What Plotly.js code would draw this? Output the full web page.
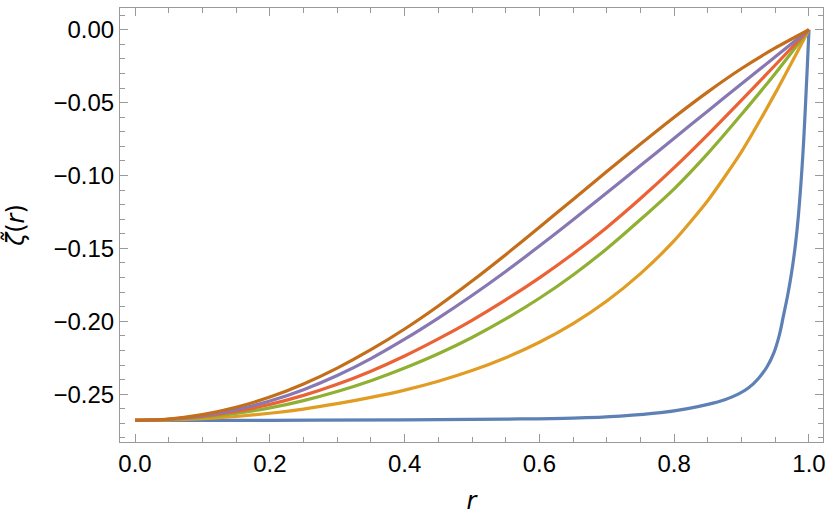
<!DOCTYPE html>
<html>
<head>
<meta charset="utf-8">
<script src="https://cdn.plot.ly/plotly-3.0.1.min.js"></script>
<style>html,body{margin:0;padding:0;background:#fff;}#chart{width:834px;height:519px;}</style>
</head>
<body>
<div id="chart"></div>
<script>
// radial positions for the five smooth families
const rGrid = [0, 0.05, 0.1, 0.15, 0.2, 0.25, 0.3, 0.35, 0.4, 0.45, 0.5, 0.55, 0.6, 0.65, 0.7, 0.75, 0.8, 0.85, 0.9, 0.95, 1.0];
const zetaOrange = [-0.268, -0.2677, -0.2668, -0.2653, -0.2631, -0.2602, -0.2565, -0.2522, -0.2472, -0.2411, -0.2338, -0.2250, -0.2144, -0.2016, -0.1861, -0.1673, -0.1447, -0.1171, -0.0836, -0.0435, 0];
const zetaGreen  = [-0.268, -0.2675, -0.2659, -0.2632, -0.2594, -0.2544, -0.2482, -0.2408, -0.2321, -0.2223, -0.2111, -0.1984, -0.1842, -0.1682, -0.1502, -0.1302, -0.1091, -0.0848, -0.0580, -0.0300, 0];
const zetaRed    = [-0.268, -0.2673, -0.2652, -0.2618, -0.2570, -0.2508, -0.2432, -0.2342, -0.2238, -0.2121, -0.1993, -0.1853, -0.1702, -0.1537, -0.1356, -0.1158, -0.0946, -0.0719, -0.0483, -0.0242, 0];
const zetaPurple = [-0.268, -0.2672, -0.2647, -0.2606, -0.2547, -0.2469, -0.2372, -0.2256, -0.2123, -0.1978, -0.1823, -0.1658, -0.1484, -0.1304, -0.1119, -0.0932, -0.0744, -0.0557, -0.0371, -0.0186, 0];
const zetaBrown  = [-0.268, -0.2670, -0.2640, -0.2590, -0.2520, -0.2430, -0.2321, -0.2195, -0.2053, -0.1895, -0.1724, -0.1543, -0.1355, -0.1164, -0.0973, -0.0784, -0.0600, -0.0426, -0.0266, -0.0125, 0];

// blue curve (boundary layer near r = 1)
const rBlue = [0, 0.2, 0.4, 0.55, 0.65, 0.72, 0.78, 0.82, 0.85, 0.875, 0.895, 0.91, 0.925, 0.938, 0.948, 0.956, 0.962, 0.968, 0.972, 0.976, 0.980, 0.984, 0.988, 0.991, 0.9935, 0.996, 0.998, 1.0];
const zetaBlue = [-0.268, -0.2679, -0.2676, -0.2671, -0.2664, -0.2650, -0.2627, -0.2599, -0.2570, -0.2538, -0.2500, -0.2458, -0.2392, -0.2310, -0.2215, -0.2095, -0.1965, -0.1830, -0.1728, -0.1610, -0.1470, -0.1290, -0.1060, -0.0850, -0.0640, -0.0400, -0.0205, 0];

const colors = ['#5E81B5', '#E19C24', '#8FB032', '#EB6235', '#8778B3', '#C56E1A'];

const lw = 3.2;
function tr(x, y, c, sm) {
  return {x: x, y: y, type: 'scatter', mode: 'lines', line: {color: c, width: lw, shape: 'spline', smoothing: sm}, hoverinfo: 'skip', showlegend: false};
}
const data = [
  tr(rBlue, zetaBlue, colors[0], 1.0),
  tr(rGrid, zetaOrange, colors[1], 0.6),
  tr(rGrid, zetaGreen, colors[2], 0.6),
  tr(rGrid, zetaRed, colors[3], 0.6),
  tr(rGrid, zetaPurple, colors[4], 0.6),
  tr(rGrid, zetaBrown, colors[5], 0.6)
];

const frameColor = '#999999';
const tickFont = {family: 'Liberation Sans, Arial, sans-serif', size: 24, color: '#000'};

const layout = {
  width: 834, height: 519,
  margin: {l: 120, r: 11, t: 8, b: 77},
  paper_bgcolor: '#fff', plot_bgcolor: '#fff',
  xaxis: {
    range: [-0.0223, 1.0208], dtick: 0.2, tick0: 0, tickformat: '.1f',
    showgrid: false, zeroline: false,
    showline: true, linecolor: frameColor, linewidth: 1, mirror: 'allticks',
    ticks: 'inside', ticklen: 8, tickcolor: frameColor, tickwidth: 1,
    minor: {dtick: 0.05, tick0: 0, ticks: 'inside', ticklen: 5, tickcolor: frameColor, tickwidth: 1, showgrid: false},
    tickfont: tickFont,
    title: {text: '<i>r</i>', font: {family: 'DejaVu Sans, sans-serif', size: 24, color: '#000'}, standoff: 16}
  },
  yaxis: {
    range: [-0.2828, 0.0149], dtick: 0.05, tick0: 0, tickformat: '.2f',
    showgrid: false, zeroline: false,
    showline: true, linecolor: frameColor, linewidth: 1, mirror: 'allticks',
    ticks: 'inside', ticklen: 8, tickcolor: frameColor, tickwidth: 1,
    minor: {dtick: 0.01, tick0: 0, ticks: 'inside', ticklen: 5, tickcolor: frameColor, tickwidth: 1, showgrid: false},
    tickfont: tickFont,
    title: {text: '<i>ζ̃</i>(<i>r</i>)', font: {family: 'DejaVu Sans, sans-serif', size: 24, color: '#000'}, standoff: 22}
  }
};

Plotly.newPlot('chart', data, layout, {staticPlot: true, displayModeBar: false});
</script>
</body>
</html>
